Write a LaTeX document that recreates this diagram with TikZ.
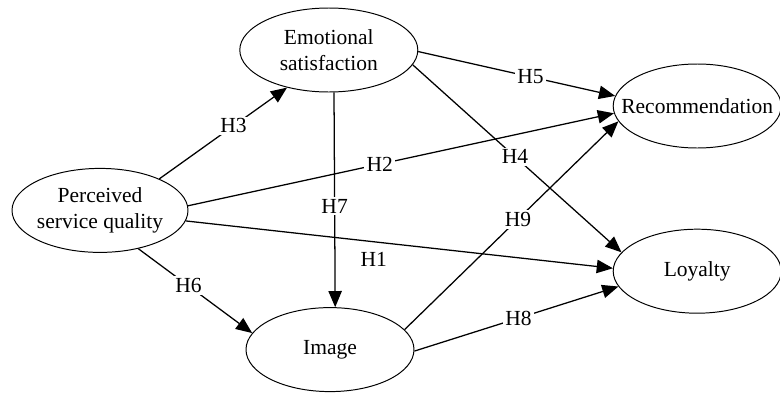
\documentclass[tikz,border=0pt]{standalone}
\usepackage{fontspec}
\setmainfont{Liberation Serif}
\usepackage{tikz}
\usetikzlibrary{arrows.meta,shapes}
\tikzset{construct/.style={draw,ellipse,line width=0.7pt,inner sep=0pt,minimum width=4.2cm,minimum height=2.1cm}}
\tikzset{caption/.style={align=center}}
\tikzset{hyp/.style={fill=white,inner sep=1.5pt}}
\tikzset{path/.style={line width=0.9pt,-{Triangle[length=11.5pt,width=9.5pt]}}}

\begin{document}
\begin{tikzpicture}[font=\fontsize{15.3}{18}\selectfont]
        \useasboundingbox (0,0) rectangle (19.5,9.8);
        \node (psq) at (2.5,4.54) [construct,minimum width=4.4cm,
            label={[caption]center:Perceived\\service quality}] {};
        \node (emo) at (8.22,8.55) [construct,minimum width=4.45cm,
            label={[caption]center:Emotional\\satisfaction}] {};
        \node (img) at (8.25,1.06) [construct,label={center:Image}] {};
        \node (rec) at (17.43,7.15) [construct,label={center:Recommendation}] {};
        \node (loy) at (17.43,3.02) [construct,label={center:Loyalty}] {};
        \draw [path] (psq.28) -- node [hyp,pos=.58] {H3} (emo.222);
        \draw [path] (psq.3.5) -- node [hyp,pos=.45] {H2} (rec.185);
        \draw [path] (emo.359) -- node [hyp,pos=.57] {H5} (rec.173);
        \draw [path] (emo.350) -- node [hyp,pos=.49] {H4} (loy.166);
        \draw [path] (emo.277) -- node [hyp,pos=.53] {H7} (img.83);
        \draw [path] (img.15.6) -- node [hyp,pos=.53] {H9} (rec.191);
        \draw [path] (psq.353) -- node [pos=.44,below=4pt] {H1} (loy.178);
        \draw [path] (psq.315) -- node [hyp,pos=.44] {H6} (img.168);
        \draw [path] (img.359) -- node [hyp,pos=.51] {H8} (loy.191);
    \end{tikzpicture}
\end{document}
